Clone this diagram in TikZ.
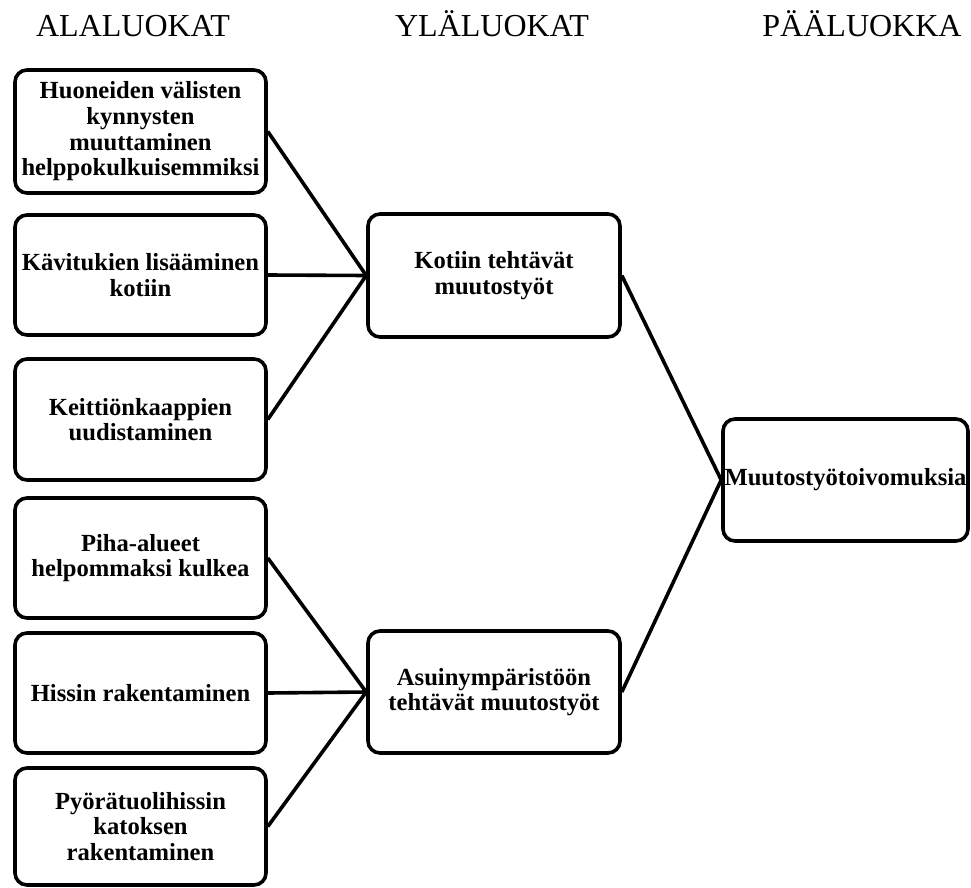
\documentclass[tikz,border=0pt]{standalone}
\usepackage{fontspec}
\setmainfont{Liberation Serif}
\begin{document}
\begin{tikzpicture}[x=1pt,y=-1pt,
  box/.style={draw=black, line width=3.6pt, rounded corners=12pt, inner sep=0pt,
    align=center, font=\fontsize{24.6}{25.7}\selectfont\bfseries},
  leftbox/.style={box, minimum width=251pt},
  midbox/.style={box, minimum width=252pt},
  header/.style={anchor=base, inner sep=0pt, font=\fontsize{32}{34}\selectfont},
  conn/.style={draw=black, line width=3.6pt}]
\useasboundingbox (0,0) rectangle (971,888);

% column titles
\node[header] (h1) at (133,37) {ALALUOKAT};
\node[header] (h2) at (492,37) {YLÄLUOKAT};
\node[header] (h3) at (862,37) {PÄÄLUOKKA};

% sub-category boxes
\node[leftbox, minimum height=123pt] (L1) at (140.5,131.5) {Huoneiden välisten\\kynnysten\\muuttaminen\\helppokulkuisemmiksi};
\node[leftbox, minimum height=120pt] (L2) at (140.5,275) {Kävitukien lisääminen\\kotiin};
\node[leftbox, minimum height=121pt] (L3) at (140.5,419.5) {Keittiönkaappien\\uudistaminen};
\node[leftbox, minimum height=120pt] (L4) at (140.5,558) {Piha-alueet\\helpommaksi kulkea};
\node[leftbox, minimum height=120pt] (L5) at (140.5,693) {Hissin rakentaminen};
\node[leftbox, minimum height=117pt] (L6) at (140.5,826.5) {Pyörätuolihissin\\katoksen\\rakentaminen};

% upper-category boxes
\node[midbox, minimum height=123pt] (M1) at (494,275.5) {Kotiin tehtävät\\muutostyöt};
\node[midbox, minimum height=122pt] (M2) at (494,692) {Asuinympäristöön\\tehtävät muutostyöt};

% main category
\node[box, minimum width=245pt, minimum height=122pt] (R) at (845.5,480) {Muutostyötoivomuksia};

% connectors
\foreach \n in {L1,L2,L3} \draw[conn] (\n.east) -- (M1.west);
\foreach \n in {L4,L5,L6} \draw[conn] (\n.east) -- (M2.west);
\draw[conn] (M1.east) -- (R.west);
\draw[conn] (M2.east) -- (R.west);
\end{tikzpicture}
\end{document}
